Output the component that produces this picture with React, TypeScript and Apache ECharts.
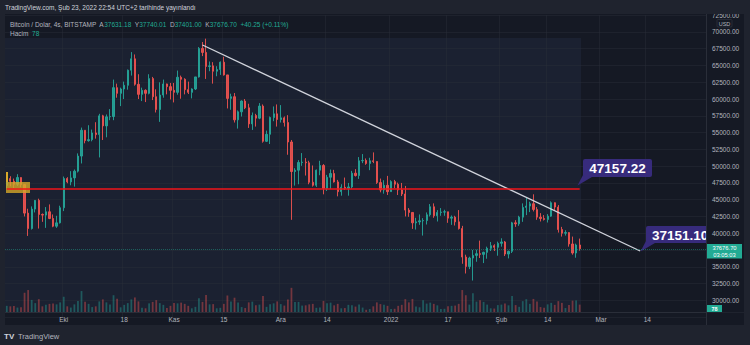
import React, { useEffect, useRef } from 'react';
import * as echarts from 'echarts';

// Daily candles [open, high, low, close], BTC/USD (Bitstamp)
const sep2021 = [
  [47100, 48450, 46700, 48150], [48150, 48500, 47000, 47750], [47750, 48150, 46750, 47300],
  [47300, 48800, 47050, 48300], [48300, 48350, 46850, 47250], [47250, 47350, 42500, 43000],
  [43000, 43650, 39600, 40700], [40700, 44000, 40550, 43600], [43600, 44950, 43100, 44900],
  [44900, 45150, 40700, 42800], [42800, 42950, 41700, 42700], [42700, 43900, 40800, 43200],
  [43200, 44300, 42100, 42200], [42200, 42800, 40900, 41050], [41050, 42600, 40800, 41550],
  [41550, 44100, 41450, 43800],
];
const oct2021 = [
  [43800, 48450, 43300, 48150], [48150, 48350, 47450, 47650], [47650, 49250, 47150, 48250],
  [48250, 49500, 46950, 49250], [49250, 51900, 49050, 51500], [51500, 55750, 50400, 55350],
  [55350, 55350, 53400, 53800], [53800, 56100, 53650, 53950], [53950, 55450, 53700, 54950],
  [54950, 56550, 54100, 54700], [54700, 57800, 51300, 57500], [57500, 57650, 53900, 56000],
  [56000, 57700, 54300, 57350], [57350, 58500, 56850, 57400], [57400, 62900, 56850, 61700],
  [61700, 62300, 60200, 60850], [60850, 61700, 58950, 61500], [61500, 62600, 60000, 62050],
  [62050, 64400, 61400, 64300], [64300, 67000, 63500, 66000], [66000, 66650, 62000, 62200],
  [62200, 63700, 60000, 60700], [60700, 61700, 59700, 61300], [61300, 61450, 59550, 60850],
  [60850, 63700, 60700, 63050], [63050, 63300, 59850, 60350], [60350, 61450, 58000, 58450],
  [58450, 62500, 56600, 60600], [60600, 62900, 60200, 62250], [62250, 62300, 60700, 61850],
  [61850, 62400, 59950, 61300],
];
const nov2021 = [
  [61300, 62400, 59500, 61000], [61000, 64250, 60650, 63250], [63250, 63500, 60050, 62950],
  [62950, 63100, 60700, 61400], [61400, 62600, 60750, 61000], [61000, 61600, 60100, 61500],
  [61500, 63300, 61350, 63300], [63300, 67750, 63200, 67550], [67550, 68500, 66400, 66950],
  [66950, 69000, 63000, 64850], [64850, 65600, 64150, 64950], [64950, 65500, 62300, 64150],
  [64150, 64900, 63400, 64400], [64400, 65600, 63600, 65500], [65500, 66300, 63500, 63600],
  [63600, 63600, 58600, 60100], [60100, 60800, 58400, 60350], [60350, 60900, 56500, 56900],
  [56900, 58300, 55600, 58100], [58100, 59800, 57400, 59700], [59700, 60000, 58500, 58700],
  [58700, 59300, 55700, 56300], [56300, 58000, 55400, 57550], [57550, 57800, 55900, 57150],
  [57150, 59400, 57000, 58950], [58950, 59200, 53500, 53700], [53700, 55300, 53600, 54750],
  [54750, 57400, 53300, 57250], [57250, 58900, 56700, 57800], [57800, 59200, 55900, 56950],
];
const dec2021 = [
  [56950, 59100, 56500, 57200], [57200, 57400, 55900, 56500], [56500, 57600, 51700, 53600],
  [53600, 53900, 42000, 49200], [49200, 49700, 47100, 49400], [49400, 50900, 47300, 50550],
  [50550, 51950, 50050, 50600], [50600, 51200, 48600, 50500], [50500, 50800, 47300, 47600],
  [47600, 50100, 46950, 47150], [47150, 49500, 46900, 49400], [49400, 50800, 48650, 50100],
  [50100, 50300, 45800, 46700], [46700, 48700, 46300, 48350], [48350, 49500, 46600, 48900],
  [48900, 49450, 47550, 47650], [47650, 47950, 45500, 46200], [46200, 47300, 45600, 46850],
  [46850, 48300, 46450, 46700], [46700, 47500, 45600, 46900], [46900, 49300, 46650, 48950],
  [48950, 49550, 48450, 48600], [48600, 51350, 48100, 50800], [50800, 51800, 50450, 50850],
  [50850, 51150, 50200, 50400], [50400, 51250, 49400, 50800], [50800, 52050, 50450, 50700],
  [50700, 50700, 47350, 47550], [47550, 48150, 46100, 46450], [46450, 47900, 45900, 47150],
  [47150, 48550, 45700, 46200],
];
const jan2022 = [
  [46200, 47900, 46200, 47700], [47700, 47950, 46700, 47300], [47300, 47550, 45700, 46450],
  [46450, 47500, 45550, 45850], [45850, 47050, 42500, 43450], [43450, 43750, 42450, 43100],
  [43100, 43150, 40650, 41550], [41550, 42300, 40550, 41700], [41700, 42800, 41250, 41850],
  [41850, 42250, 39650, 41900], [41900, 43100, 41300, 42750], [42750, 44350, 42500, 43950],
  [43950, 44450, 42300, 42600], [42600, 43450, 41750, 43100], [43100, 43750, 42600, 43150],
  [43150, 43500, 42600, 43200], [43200, 43200, 41550, 42250], [42250, 42650, 41250, 42400],
  [42400, 42600, 41150, 41700], [41700, 43450, 40550, 40700], [40700, 41100, 35450, 36450],
  [36450, 36800, 34000, 35050], [35050, 36500, 34650, 36300], [36300, 37500, 32950, 36700],
  [36700, 37550, 35750, 36950], [36950, 38900, 36300, 36850], [36850, 37250, 35550, 37150],
  [37150, 38000, 36200, 37750], [37750, 38700, 37350, 38150], [38150, 38350, 37350, 37900],
  [37900, 38750, 36650, 38500],
];
const feb2022 = [
  [38500, 39250, 38000, 38700], [38700, 38850, 36600, 36900], [36900, 37400, 36250, 37300],
  [37300, 41700, 37050, 41550], [41550, 41950, 40950, 41400], [41400, 42600, 41100, 42400],
  [42400, 44450, 41700, 43850], [43850, 45300, 42700, 44050], [44050, 44700, 43150, 44400],
  [44400, 45800, 43250, 43550], [43550, 43900, 42000, 42400], [42400, 43000, 41750, 42200],
  [42200, 42700, 41900, 42050], [42050, 42850, 41600, 42550], [42550, 44750, 42450, 44550],
  [44550, 44600, 43350, 43900], [43900, 44200, 40100, 40550], [40550, 40950, 39500, 40000],
  [40000, 40450, 39650, 40100], [40100, 40150, 38000, 38400], [38400, 39500, 36800, 37050],
  [37050, 38450, 36350, 38250], [38250, 39200, 37400, 37676.7],
];

// Daily volume (BTC)
const volSep2021 = [2500, 2300, 2400, 1800, 1900, 7800, 8900, 4900, 3600, 5200, 2300, 2900, 3300, 3400, 3100, 3900];
const volOct2021 = [6200, 2300, 1800, 3100, 4500, 8500, 4200, 3300, 2000, 2300, 4300, 5100, 3900, 3000, 6800, 5400, 1900, 2900, 3600, 5100, 5900, 4300, 1700, 1500, 3500, 4100, 4800, 3600, 2900, 1600, 2500];
const volNov2021 = [3600, 3500, 3800, 3300, 2500, 1500, 2100, 5600, 4100, 6900, 3100, 3200, 1500, 1700, 3300, 6700, 4300, 5800, 3900, 2000, 1600, 3900, 4200, 2700, 3000, 6500, 2100, 3100, 3500, 4300];
const volDec2021 = [3200, 2600, 5100, 9800, 4100, 4100, 2600, 2700, 3100, 3300, 1700, 1800, 4500, 3500, 3800, 2700, 3300, 1500, 1600, 2900, 2700, 2200, 3000, 1800, 900, 1200, 2300, 3900, 3200, 2900, 2500];
const volJan2022 = [1200, 1300, 2500, 2900, 5200, 3900, 5300, 2200, 1900, 4800, 3400, 3800, 3300, 2700, 1200, 1300, 2300, 2500, 2600, 3300, 8900, 6800, 3000, 7600, 4200, 4800, 4100, 3000, 1500, 1400, 2800];
const volFeb2022 = [3000, 3400, 2700, 6500, 2800, 2100, 4400, 5200, 3300, 5300, 4300, 2000, 1700, 3100, 3700, 2900, 4400, 3700, 1600, 2800, 4600, 4700, 3000];

// Time-axis tick labels
const tickLabels: Record<string, string> = {
  '2021-10-01': 'Eki', '2021-10-18': '18', '2021-11-01': 'Kas', '2021-11-15': '15',
  '2021-12-01': 'Ara', '2021-12-14': '14', '2022-01-01': '2022', '2022-01-17': '17',
  '2022-02-01': 'Şub', '2022-02-14': '14', '2022-03-01': 'Mar', '2022-03-14': '14',
};
// Price labels hidden by other marks
const hiddenPriceLabels = [27500, 37500];

// Drawings
const trendStart = ['2021-11-09', 68062];
const trendEnd = ['2022-03-12', 37350];
const redLevel = 46600;
const redStart = '2021-09-15';
const redEnd = '2022-02-23';
const lastPrice = 37676.7;

const FONT = "'Liberation Sans', Arial, sans-serif";
const UP = 'rgba(38,166,154,0.9)';
const DOWN = 'rgba(239,83,80,0.9)';

export default function App() {
  const ref = useRef<HTMLDivElement>(null);
  useEffect(() => {
    document.body.style.margin = '0';
    const chart = echarts.init(ref.current!, null, { renderer: 'svg' });

    const candlesRaw = [...sep2021, ...oct2021, ...nov2021, ...dec2021, ...jan2022, ...feb2022];
    const vols = [...volSep2021, ...volOct2021, ...volNov2021, ...volDec2021, ...volJan2022, ...volFeb2022];
    const start = Date.UTC(2021, 8, 15);
    const dates: string[] = [];
    for (let i = 0; i < 197; i++) dates.push(new Date(start + i * 86400000).toISOString().slice(0, 10));

    const candles = candlesRaw.map((d) => [d[0], d[3], d[2], d[1]]);
    const volData = vols.map((v, i) => ({
      value: v,
      itemStyle: { color: candlesRaw[i][3] >= candlesRaw[i][0] ? 'rgba(38,166,154,0.42)' : 'rgba(239,83,80,0.42)' },
    }));

    const isTick = (_i: number, v: string) => v in tickLabels;

    const option: any = {
      animation: false,
      backgroundColor: '#1f232e',
      grid: [
        { left: 5, right: 44, top: 15.2, bottom: 27.9 },
        { left: 5, right: 44, top: 275, bottom: 33 },
      ],
      xAxis: [
        {
          type: 'category', gridIndex: 0, data: dates,
          axisLine: { show: false }, axisTick: { show: false }, axisLabel: { show: false },
          splitLine: { show: true, interval: isTick, lineStyle: { color: 'rgba(42,46,57,0.45)', width: 1 } },
        },
        {
          type: 'category', gridIndex: 1, data: dates,
          axisLine: { show: false }, axisTick: { show: false },
          axisLabel: {
            interval: isTick, formatter: (v: string) => tickLabels[v] || '',
            color: '#b2b5be', fontSize: 6.5, fontFamily: FONT, margin: 4,
          },
          splitLine: { show: false },
        },
      ],
      yAxis: [
        {
          type: 'value', gridIndex: 0, position: 'right', min: 27500, max: 72500, interval: 2500, z: 10,
          axisLine: { show: false }, axisTick: { show: false }, splitLine: { show: false },
          axisLabel: {
            showMinLabel: false, color: '#b2b5be', fontSize: 6.5, fontFamily: FONT, margin: 6,
            formatter: (v: number) => (hiddenPriceLabels.includes(v) ? '' : v.toFixed(2)),
          },
        },
        {
          type: 'value', gridIndex: 0, position: 'left', min: 27500, max: 72500, interval: 2500,
          axisLine: { show: false }, axisTick: { show: false }, axisLabel: { show: false },
          splitLine: { show: true, lineStyle: { color: 'rgba(42,46,57,0.45)', width: 1 } },
        },
        { type: 'value', gridIndex: 1, min: 0, max: 15000, show: false, splitLine: { show: false } },
      ],
      series: [
        {
          type: 'candlestick', xAxisIndex: 0, yAxisIndex: 0, data: candles, barWidth: '50%',
          itemStyle: { color: UP, color0: DOWN, borderColor: UP, borderColor0: DOWN, borderWidth: 1 },
          markLine: {
            silent: true, symbol: ['none', 'none'], label: { show: false },
            data: [
              [
                { coord: trendStart, lineStyle: { color: '#d1d4dc', width: 1.3, type: 'solid' } },
                { coord: trendEnd },
              ],
              [
                { coord: [redStart, redLevel], lineStyle: { color: '#f2141a', width: 1.5, type: 'solid' } },
                { coord: [redEnd, redLevel] },
              ],
              { yAxis: lastPrice, lineStyle: { color: '#22ab94', width: 1, type: 'dotted', opacity: 0.45 } },
            ],
          },
        },
        {
          type: 'bar', xAxisIndex: 1, yAxisIndex: 2, data: volData, barWidth: '50%',
        },
      ],
      graphic: [
        { type: 'rect', z: -10, silent: true, shape: { x: 5, y: 14, width: 739, height: 311 }, style: { fill: '#151924' } },
        { type: 'rect', z: -9, silent: true, shape: { x: 5, y: 38, width: 576, height: 274 }, style: { fill: '#1b2131' } },
        { type: 'line', z: -8, silent: true, shape: { x1: 5, y1: 312.5, x2: 744, y2: 312.5 }, style: { stroke: '#2a2e39', lineWidth: 1 } },
        // yellow marker box
        { type: 'rect', z: 5, silent: true, shape: { x: 6, y: 172, width: 2, height: 10 }, style: { fill: '#d9aa2a' } },
        { type: 'rect', z: 5, silent: true, shape: { x: 6, y: 182, width: 24, height: 11 }, style: { fill: 'rgba(214,168,40,0.8)' } },
        // callout 47157.22
        { type: 'polygon', z: 5, silent: true, shape: { points: [[583, 175], [592, 177], [577.5, 185.5]] }, style: { fill: '#372b7c' } },
        { type: 'rect', z: 5, silent: true, shape: { x: 583, y: 159, width: 69, height: 18, r: 2 }, style: { fill: '#372b7c' } },
        { type: 'text', z: 5, silent: true, style: { x: 617.5, y: 168.5, text: '47157.22', fill: '#ffffff', font: `bold 13.5px ${FONT}`, align: 'center', verticalAlign: 'middle' } },
        // callout 37151.10
        { type: 'polygon', z: 5, silent: true, shape: { points: [[646, 241], [655, 243], [640.5, 251.5]] }, style: { fill: '#372b7c' } },
        { type: 'rect', z: 5, silent: true, shape: { x: 646, y: 226, width: 75, height: 17, r: 2 }, style: { fill: '#372b7c' } },
        { type: 'text', z: 5, silent: true, style: { x: 652, y: 235, text: '37151.10', fill: '#ffffff', font: `bold 13.5px ${FONT}`, align: 'left', verticalAlign: 'middle' } },
        // price-axis column
        { type: 'rect', z: 6, silent: true, shape: { x: 706.5, y: 14, width: 37.5, height: 298.5 }, style: { fill: '#151924' } },
        { type: 'line', z: 7, silent: true, shape: { x1: 706.5, y1: 14, x2: 706.5, y2: 325 }, style: { stroke: '#2a2e39', lineWidth: 1 } },
        // USD tag
        { type: 'rect', z: 11, silent: true, shape: { x: 717, y: 19.5, width: 15, height: 7.5, r: 1 }, style: { fill: '#151924', stroke: '#363a45', lineWidth: 0.6 } },
        { type: 'text', z: 11, silent: true, style: { x: 724.5, y: 23.5, text: 'USD', fill: '#b2b5be', font: `5.5px ${FONT}`, align: 'center', verticalAlign: 'middle' } },
        // last price tag
        { type: 'rect', z: 11, silent: true, shape: { x: 707, y: 244, width: 35, height: 14.5 }, style: { fill: '#22ab94' } },
        { type: 'text', z: 11, silent: true, style: { x: 724.5, y: 247.6, text: '37676.70', fill: '#ffffff', font: `5.8px ${FONT}`, align: 'center', verticalAlign: 'middle' } },
        { type: 'text', z: 11, silent: true, style: { x: 724.5, y: 255, text: '03:05:03', fill: '#ffffff', font: `5.8px ${FONT}`, align: 'center', verticalAlign: 'middle' } },
        // volume tag
        { type: 'rect', z: 11, silent: true, shape: { x: 707, y: 305, width: 15, height: 7 }, style: { fill: '#22ab94' } },
        { type: 'text', z: 11, silent: true, style: { x: 714.5, y: 308.7, text: '78', fill: '#ffffff', font: `bold 5.5px ${FONT}`, align: 'center', verticalAlign: 'middle' } },
        // title strip
        { type: 'rect', z: 12, silent: true, shape: { x: 0, y: 0, width: 750, height: 14 }, style: { fill: '#1f232e' } },
        { type: 'text', z: 13, silent: true, style: { x: 5, y: 7.5, text: 'TradingView.com, Şub 23, 2022 22:54 UTC+2 tarihinde yayınlandı', fill: '#d1d4dc', font: `6.5px ${FONT}`, verticalAlign: 'middle' } },
        {
          type: 'text', z: 13, silent: true,
          style: {
            x: 10, y: 24.5, verticalAlign: 'middle', font: `6.5px ${FONT}`,
            text: '{g|Bitcoin / Dolar, 4s, BITSTAMP  A}{v|37631.18}{g|  Y}{v|37740.01}{g|  D}{v|37401.00}{g|  K}{v|37676.70}{v|  +40.25 (+0.11%)}',
            rich: {
              g: { fill: '#b2b5be', color: '#b2b5be', fontSize: 6.5, fontFamily: FONT },
              v: { fill: '#22ab94', color: '#22ab94', fontSize: 6.5, fontFamily: FONT },
            },
          },
        },
        {
          type: 'text', z: 13, silent: true,
          style: {
            x: 10, y: 33, verticalAlign: 'middle', font: `6.5px ${FONT}`,
            text: '{g|Hacim  }{v|78}',
            rich: {
              g: { fill: '#b2b5be', color: '#b2b5be', fontSize: 6.5, fontFamily: FONT },
              v: { fill: '#22ab94', color: '#22ab94', fontSize: 6.5, fontFamily: FONT },
            },
          },
        },
        // footer logo
        { type: 'text', z: 13, silent: true, style: { x: 4, y: 336, text: 'TV', fill: '#d1d4dc', font: `bold 8px ${FONT}`, verticalAlign: 'middle' } },
        { type: 'text', z: 13, silent: true, style: { x: 18, y: 336, text: 'TradingView', fill: '#b2b5be', font: `7.5px ${FONT}`, verticalAlign: 'middle' } },
      ],
    };

    chart.setOption(option);
    return () => chart.dispose();
  }, []);
  return <div ref={ref} style={{ width: 750, height: 345 }} />;
}
